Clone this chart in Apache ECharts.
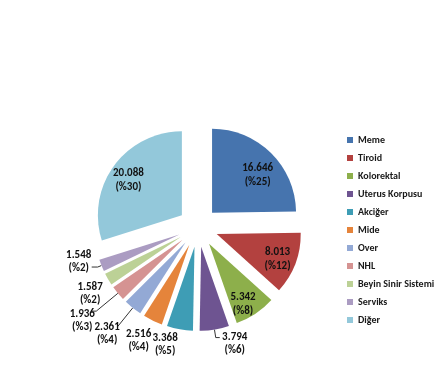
<!DOCTYPE html>
<html><head><meta charset="utf-8">
<script src="https://cdn.jsdelivr.net/npm/echarts@6/dist/echarts.min.js"></script>
<style>html,body{margin:0;padding:0;background:#fff}#c{width:446px;height:374px}</style>
</head><body><div id="c"></div>
<script>
const categories = ['Meme','Tiroid','Kolorektal','Uterus Korpusu','Akciğer','Mide','Over','NHL','Beyin Sinir Sistemi','Serviks','Diğer'];
const values = [16646, 8013, 5342, 3794, 3368, 2516, 2361, 1936, 1587, 1548, 20088];
const valueLabels = ['16.646','8.013','5.342','3.794','3.368','2.516','2.361','1.936','1.587','1.548','20.088'];
const percentLabels = ['%25','%12','%8','%6','%5','%4','%4','%3','%2','%2','%30'];
const colors = ['#4674AE','#B3413F','#8DAF4B','#6E5491','#3E9DB5','#E5843B','#93A9D5','#D59392','#BCD196','#AB9CC2','#93C8DA'];

// label styling per outside slice: [length, length2, distance, showLine, dx, dy]
const outsideStyle = {
  3: [8, 4, 2, true, 0, 6],
  4: [4, 0, 1, false, 0, 11.5],
  5: [7, 0, 0, false, 2, 14],
  6: [24, 0, 0, true, 2.5, 7],
  7: [28, 5, 1, true, 5, 10],
  8: [4, 0, 1.5, false, 0, 12],
  9: [4, 6, 1, true, 1, -5.5]
};
// inside label nudges: [dx, dy]
const insideStyle = {0: [0, 9], 1: [0, 2], 2: [-2, 6], 10: [-1, 3]};

const FONT = 'Carlito, "Liberation Sans Narrow", "Open Sans", sans-serif';
const labelText = i => valueLabels[i] + '\n(' + percentLabels[i] + ')';
const CENTER = [198, 227], R = 84, OFFSET = 20;
const baseText = {fontFamily: FONT, fontSize: 11, fontWeight: 'bold', color: '#111', lineHeight: 13};

const chart = echarts.init(document.getElementById('c'));
chart.setOption({
  animation: false,
  color: colors,
  legend: {
    orient: 'vertical', left: 342, top: 130,
    itemWidth: 6, itemHeight: 6, itemGap: 8, icon: 'rect',
    selectedMode: false,
    textStyle: {fontFamily: FONT, fontSize: 10, fontWeight: 'bold', color: '#1a1a1a', lineHeight: 10},
    data: categories
  },
  series: [{
    type: 'pie',
    center: CENTER, radius: R,
    startAngle: 90, clockwise: true,
    selectedMode: 'multiple', selectedOffset: OFFSET,
    avoidLabelOverlap: false,
    labelLayout: function (p) {
      const o = outsideStyle[p.dataIndex];
      return o ? {hideOverlap: false, dx: o[4], dy: o[5]} : {hideOverlap: false};
    },
    label: Object.assign({}, baseText),
    labelLine: {lineStyle: {color: '#333', width: 1}},
    emphasis: {disabled: true},
    data: categories.map((n, i) => {
      const o = outsideStyle[i];
      if (!o) return {name: n, value: values[i], selected: true, label: {show: false}, labelLine: {show: false}};
      return {
        name: n, value: values[i], selected: true,
        label: {
          show: true, position: 'outside', distanceToLabelLine: o[2],
          formatter: '{c|' + valueLabels[i] + '}\n{c|(' + percentLabels[i] + ')}',
          rich: {c: Object.assign({}, baseText, {width: 26, align: 'center'})}
        },
        labelLine: {show: o[3], length: o[0], length2: o[1]}
      };
    })
  }, {
    type: 'pie',
    center: CENTER, radius: [40, R],
    startAngle: 90, clockwise: true,
    selectedMode: 'multiple', selectedOffset: OFFSET,
    avoidLabelOverlap: false, silent: true, legendHoverLink: false,
    labelLayout: function (p) {
      const o = insideStyle[p.dataIndex];
      return o ? {hideOverlap: false, dx: o[0], dy: o[1]} : {hideOverlap: false};
    },
    itemStyle: {color: 'rgba(0,0,0,0)'},
    label: Object.assign({}, baseText, {lineHeight: 14}),
    labelLine: {show: false},
    emphasis: {disabled: true},
    data: categories.map((n, i) => ({
      name: n, value: values[i], selected: true,
      label: insideStyle[i] ? {show: true, position: 'inside', formatter: labelText(i)} : {show: false}
    }))
  }]
});
</script></body></html>
